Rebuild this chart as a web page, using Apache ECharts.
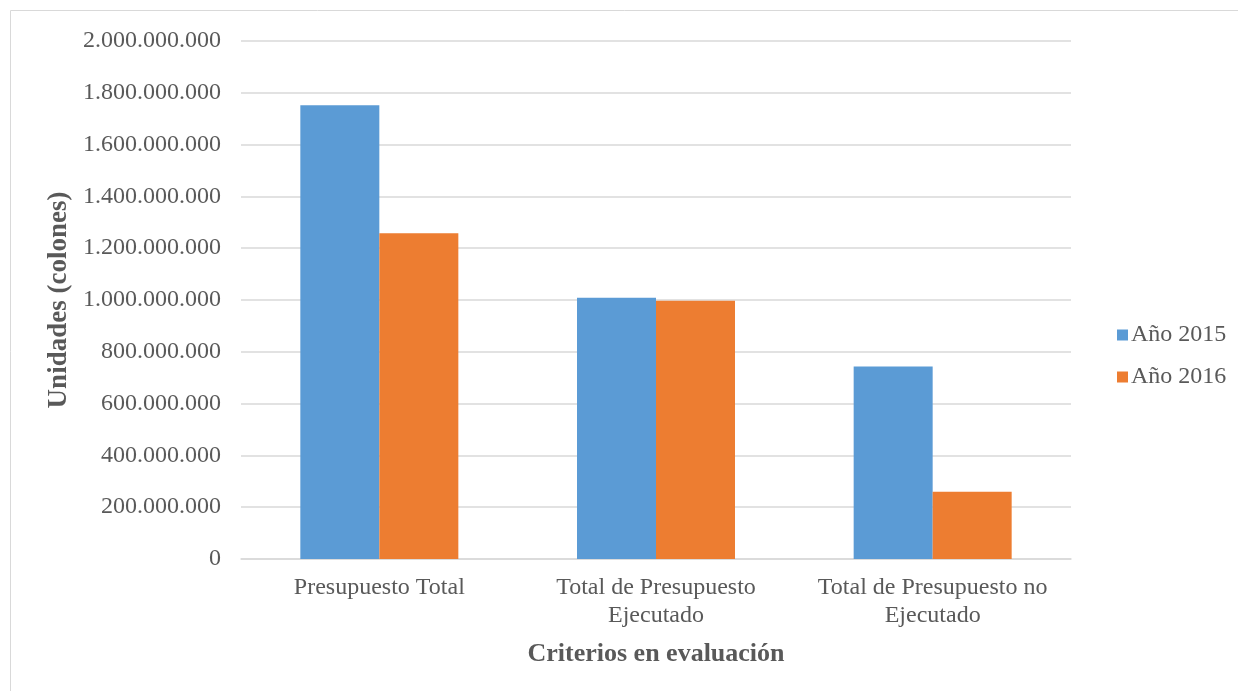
<!DOCTYPE html>
<html>
<head>
<meta charset="utf-8">
<script src="https://cdn.jsdelivr.net/npm/echarts@6/dist/echarts.min.js"></script>
<style>
  html, body { margin: 0; padding: 0; background: #fff; }
  #chart { width: 1238px; height: 691px; }
</style>
</head>
<body>
<div id="chart"></div>
<script>
// Budget categories and values (colones)
const categories = ['Presupuesto Total', 'Total de Presupuesto\nEjecutado', 'Total de Presupuesto no\nEjecutado'];
const seriesNames = ['Año 2015', 'Año 2016'];
const values2015 = [1752000000, 1009000000, 743000000];
const values2016 = [1258000000, 997000000, 260000000];
const colors = ['#5b9bd5', '#ed7d31'];

const serif = '"Liberation Serif", "Times New Roman", serif';
const textColor = '#595959';

function fmt(v) {
  return String(v).replace(/\B(?=(\d{3})+(?!\d))/g, '.');
}

const chart = echarts.init(document.getElementById('chart'));
chart.setOption({
  animation: false,
  textStyle: { fontFamily: serif },
  graphic: [{
    type: 'rect',
    shape: { x: 10.5, y: 10.5, width: 1240, height: 700 },
    style: { fill: 'none', stroke: '#d9d9d9', lineWidth: 1 },
    silent: true
  }],
  grid: { left: 241, right: 167, top: 41, bottom: 132 },
  legend: {
    orient: 'vertical',
    left: 1112,
    top: 318,
    itemWidth: 11,
    itemHeight: 11,
    itemGap: 18,
    icon: 'rect',
    textStyle: { fontFamily: serif, fontSize: 24, color: textColor, padding: [0, 0, 0, -2] },
    data: seriesNames
  },
  xAxis: {
    type: 'category',
    data: categories,
    name: 'Criterios en evaluación',
    nameLocation: 'middle',
    nameGap: 82,
    nameTextStyle: { fontFamily: serif, fontSize: 26, fontWeight: 'bold', color: textColor },
    axisLine: { lineStyle: { color: '#d9d9d9', width: 1.5 } },
    axisTick: { show: false },
    axisLabel: {
      interval: 0,
      hideOverlap: false,
      fontFamily: serif, fontSize: 24, color: textColor, margin: 15, lineHeight: 28
    }
  },
  yAxis: {
    type: 'value',
    min: 0,
    max: 2000000000,
    interval: 200000000,
    name: 'Unidades (colones)',
    nameLocation: 'middle',
    nameGap: 164,
    nameTextStyle: { fontFamily: serif, fontSize: 27, fontWeight: 'bold', color: textColor },
    axisLine: { show: false },
    axisTick: { show: false },
    splitLine: { lineStyle: { color: '#d9d9d9', width: 1.5 } },
    axisLabel: { fontFamily: serif, fontSize: 24, color: textColor, margin: 20, formatter: fmt }
  },
  series: [
    { name: seriesNames[0], type: 'bar', data: values2015, barWidth: 79, barGap: '0%', itemStyle: { color: colors[0] } },
    { name: seriesNames[1], type: 'bar', data: values2016, barWidth: 79, barGap: '0%', itemStyle: { color: colors[1] } }
  ]
});
</script>
</body>
</html>
